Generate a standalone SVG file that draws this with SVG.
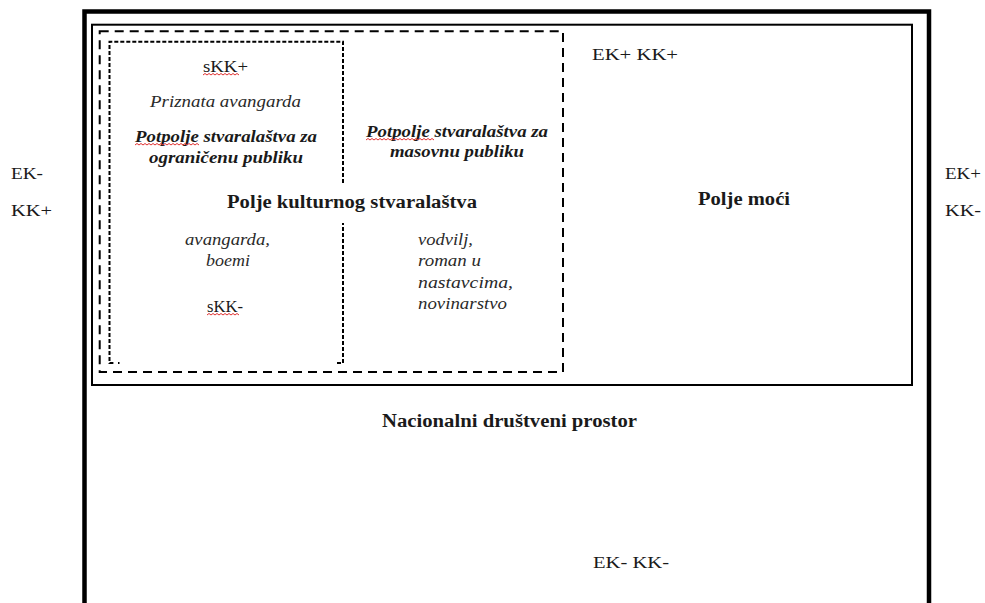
<svg xmlns="http://www.w3.org/2000/svg" width="985" height="603" viewBox="0 0 985 603">
<style>
text{font-family:'Liberation Serif','Times New Roman',serif;fill:#1a1a1a;font-size:16px}
.it{font-style:italic;fill:#2a2a2a;font-size:16.5px}
.bi{font-style:italic;font-weight:bold;font-size:16px}
.b{font-weight:bold;font-size:18px}
.sq{fill:none;stroke:#e03030;stroke-width:1}
</style>
<rect width="985" height="603" fill="#fff"/>
<g id="nacionalni-prostor">
<rect x="84.5" y="11.5" width="844.5" height="620" fill="none" stroke="#000" stroke-width="4.5"/>
<text class="b" x="382" y="427" textLength="255" lengthAdjust="spacingAndGlyphs">Nacionalni društveni prostor</text>
<text x="593" y="568" textLength="76" lengthAdjust="spacingAndGlyphs">EK- KK-</text>
</g>
<g id="polje-moci">
<rect x="92" y="24.7" width="820" height="360.3" fill="none" stroke="#000" stroke-width="2"/>
<text x="592" y="60" textLength="86" lengthAdjust="spacingAndGlyphs">EK+ KK+</text>
<text class="b" x="698" y="205" textLength="92" lengthAdjust="spacingAndGlyphs">Polje moći</text>
</g>
<g id="polje-kulturnog-stvaralastva">
<rect x="99.7" y="31.3" width="463.3" height="340.7" fill="none" stroke="#000" stroke-width="2" stroke-dasharray="9 6"/>
<text class="b" x="227" y="208" textLength="250" lengthAdjust="spacingAndGlyphs">Polje kulturnog stvaralaštva</text>
</g>
<g id="potpolje-ogranicena-publika">
<path d="M343 183 V41.7 H109.5 V363 H114 M118 363 H119.5 M337 363 H343 V223" fill="none" stroke="#000" stroke-width="2" stroke-dasharray="4 2"/>
<text x="203" y="72" textLength="45" lengthAdjust="spacingAndGlyphs">sKK+</text>
<path class="sq" d="M203 75 l2 -1.5 l2 1.5 l2 -1.5 l2 1.5 l2 -1.5 l2 1.5 l2 -1.5 l2 1.5 l2 -1.5 l2 1.5 l2 -1.5 l2 1.5 l2 -1.5 l2 1.5 l2 -1.5 l2 1.5 l2 -1.5 l2 1.5"/>
<text class="it" x="150" y="107" textLength="151" lengthAdjust="spacingAndGlyphs">Priznata avangarda</text>
<text class="bi" x="135" y="142" textLength="182" lengthAdjust="spacingAndGlyphs">Potpolje stvaralaštva za</text>
<path class="sq" d="M135 145 l2 -1.5 l2 1.5 l2 -1.5 l2 1.5 l2 -1.5 l2 1.5 l2 -1.5 l2 1.5 l2 -1.5 l2 1.5 l2 -1.5 l2 1.5 l2 -1.5 l2 1.5 l2 -1.5 l2 1.5 l2 -1.5 l2 1.5 l2 -1.5 l2 1.5 l2 -1.5 l2 1.5 l2 -1.5 l2 1.5 l2 -1.5 l2 1.5 l2 -1.5 l2 1.5 l2 -1.5 l2 1.5 l2 -1.5 l2 1.5"/>
<text class="bi" x="149" y="163" textLength="154" lengthAdjust="spacingAndGlyphs">ograničenu publiku</text>
<text class="it" x="185" y="245" textLength="85" lengthAdjust="spacingAndGlyphs">avangarda,</text>
<text class="it" x="206" y="266" textLength="44" lengthAdjust="spacingAndGlyphs">boemi</text>
<text x="207" y="312" textLength="36" lengthAdjust="spacingAndGlyphs">sKK-</text>
<path class="sq" d="M207 315 l2 -1.5 l2 1.5 l2 -1.5 l2 1.5 l2 -1.5 l2 1.5 l2 -1.5 l2 1.5 l2 -1.5 l2 1.5 l2 -1.5 l2 1.5 l2 -1.5 l2 1.5 l2 -1.5 l2 1.5"/>
</g>
<g id="potpolje-masovna-publika">
<text class="bi" x="366" y="137" textLength="182" lengthAdjust="spacingAndGlyphs">Potpolje stvaralaštva za</text>
<path class="sq" d="M366 140 l2 -1.5 l2 1.5 l2 -1.5 l2 1.5 l2 -1.5 l2 1.5 l2 -1.5 l2 1.5 l2 -1.5 l2 1.5 l2 -1.5 l2 1.5 l2 -1.5 l2 1.5 l2 -1.5 l2 1.5 l2 -1.5 l2 1.5 l2 -1.5 l2 1.5 l2 -1.5 l2 1.5 l2 -1.5 l2 1.5 l2 -1.5 l2 1.5 l2 -1.5 l2 1.5 l2 -1.5 l2 1.5 l2 -1.5 l2 1.5 l2 -1.5 l2 1.5"/>
<text class="bi" x="390" y="157" textLength="134" lengthAdjust="spacingAndGlyphs">masovnu publiku</text>
<text class="it" x="418" y="245" textLength="55" lengthAdjust="spacingAndGlyphs">vodvilj,</text>
<text class="it" x="418" y="266" textLength="63" lengthAdjust="spacingAndGlyphs">roman u</text>
<text class="it" x="418" y="288" textLength="95" lengthAdjust="spacingAndGlyphs">nastavcima,</text>
<text class="it" x="418" y="309" textLength="89" lengthAdjust="spacingAndGlyphs">novinarstvo</text>
</g>
<g id="osi">
<text x="11" y="179" textLength="32" lengthAdjust="spacingAndGlyphs">EK-</text>
<text x="11" y="216" textLength="41" lengthAdjust="spacingAndGlyphs">KK+</text>
<text x="945" y="179" textLength="36" lengthAdjust="spacingAndGlyphs">EK+</text>
<text x="945" y="216" textLength="36" lengthAdjust="spacingAndGlyphs">KK-</text>
</g>
<g id="connectors"/>
</svg>
